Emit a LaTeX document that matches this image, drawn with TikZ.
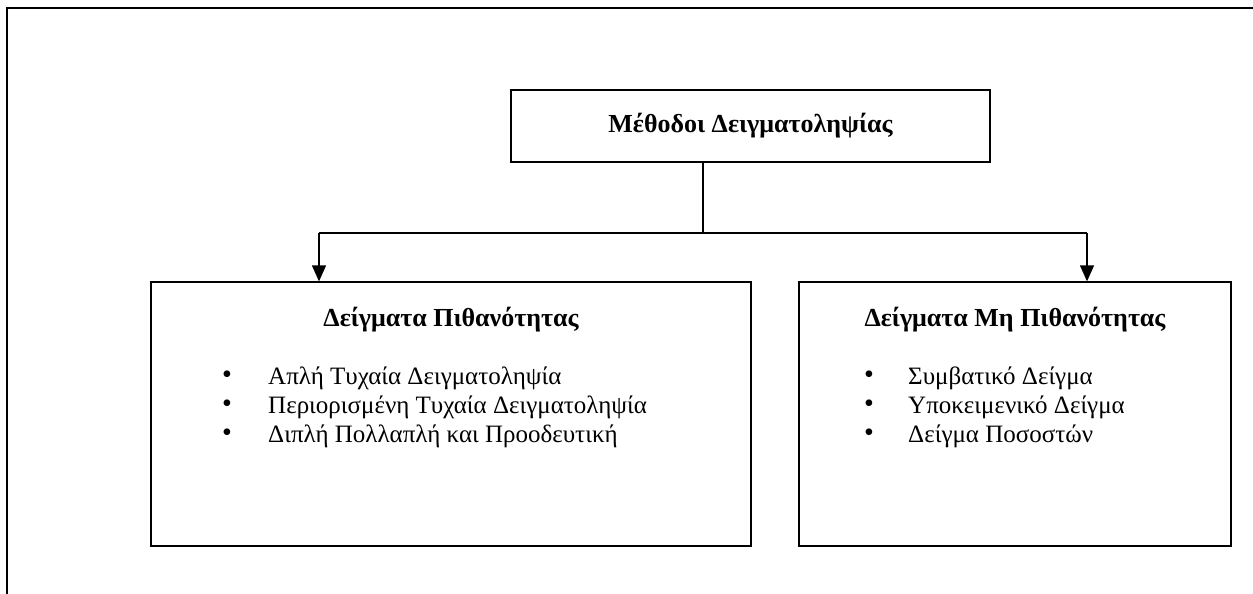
\documentclass[tikz,border=0pt]{standalone}
\usepackage{fontspec}
\setmainfont{Liberation Serif}
\usetikzlibrary{arrows.meta,positioning}

\begin{document}
\begin{tikzpicture}[x=1pt,y=-1pt,>={Triangle[width=14pt,length=16pt]},
  font=\fontsize{25}{30}\selectfont,
  box/.style={draw,line width=1.3pt,inner sep=0pt},
  heading/.style={font=\fontsize{26}{30}\selectfont\bfseries},
  dot/.style={inner sep=0pt,font=\fontsize{28}{28}\selectfont},
  conn/.style={line width=1.3pt}]
  \useasboundingbox (0,0) rectangle (1253,594);
  % πλαίσιο σελίδας
  \draw[line width=2pt] (7,594) -- (7,8) -- (1253,8);

  % κουτιά
  \node[box,heading,minimum width=479pt,minimum height=72pt] (meth) at (750.5,126) {Μέθοδοι Δειγματοληψίας};
  \node[box,minimum width=600pt,minimum height=264pt] (prob) at (451,414) {};
  \node[box,minimum width=432pt,minimum height=264pt] (nonprob) at (1015,414) {};

  % τίτλοι
  \node[heading] (probtitle) at (451,320) {Δείγματα Πιθανότητας};
  \node[heading] (nonprobtitle) at (1015,320) {Δείγματα Μη Πιθανότητας};

  % λίστες
  \foreach \txt [count=\i] in {Απλή Τυχαία Δειγματοληψία, Περιορισμένη Τυχαία Δειγματοληψία, Διπλή Πολλαπλή και Προοδευτική}{
    \node[dot] (pb\i) at (227,348+29*\i) {\textbullet};
    \node[anchor=west,inner sep=0pt] (pi\i) at (268,349+29*\i) {\txt};
  }
  \foreach \txt [count=\i] in {Συμβατικό Δείγμα, Υποκειμενικό Δείγμα, Δείγμα Ποσοστών}{
    \node[dot] (nb\i) at (869,348+29*\i) {\textbullet};
    \node[anchor=west,inner sep=0pt] (ni\i) at (908,349+29*\i) {\txt};
  }

  % σύνδεσμοι
  \coordinate (stem) at (703,0);
  \coordinate (barL) at (319,233);
  \coordinate (barR) at (1087,233);
  \draw[conn] (stem |- meth.south) |- (barL);
  \draw[conn] (stem |- meth.south) |- (barR);
  \draw[conn,->] (barL) -- (barL |- prob.north);
  \draw[conn,->] (barR) -- (barR |- nonprob.north);
\end{tikzpicture}
\end{document}
